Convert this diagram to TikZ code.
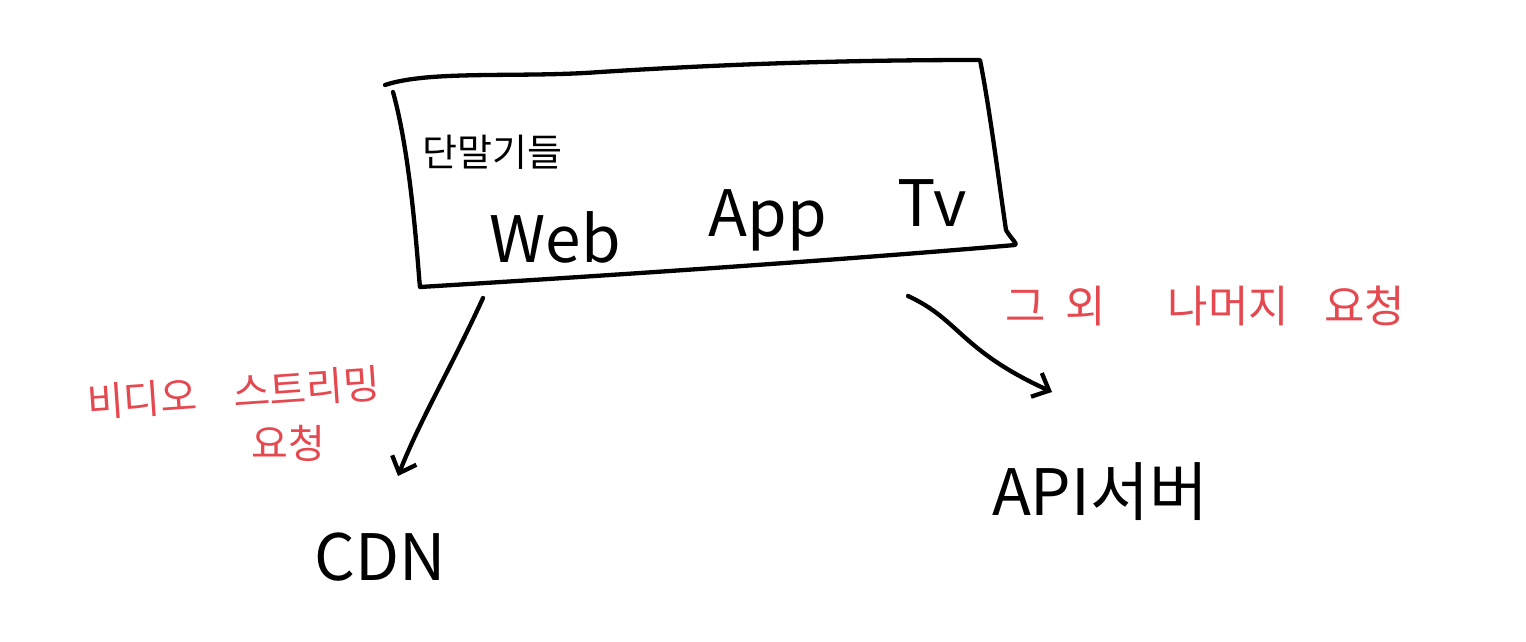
\documentclass[tikz,border=0pt]{standalone}
\usepackage{fontspec}
\setmainfont{Noto Sans CJK KR}
\usetikzlibrary{arrows.meta}
\definecolor{hred}{HTML}{E5484F}
\tikzset{
  ink/.style={line width=4.3pt, line cap=round, line join=round, black},
  lbl/.style={inner sep=0pt, font=\fontsize{64}{70}\selectfont},
  kor/.style={inner sep=0pt, font=\fontsize{38}{46}\selectfont},
  redlbl/.style={inner sep=0pt, text=hred, font=\fontsize{40}{46}\selectfont},
  arr/.style={ink, -{Straight Barb[length=14pt, width=26pt, line width=4.3pt]}}
}
\begin{document}
\begin{tikzpicture}[x=1pt,y=-1pt]
\useasboundingbox[fill=white] (0,0) rectangle (1526,642);
% hand-drawn box
\draw[ink] (385,85) .. controls (430,70) and (520,78) .. (600,72)
  .. controls (760,62) and (880,60) .. (980,60)
  .. controls (990,110) and (1000,190) .. (1006,230)
  .. controls (1012,240) and (1018,244) .. (1015,245)
  .. controls (900,255) and (700,270) .. (420,287)
  .. controls (418,270) and (412,160) .. (393,92);
\node[kor, anchor=west] (dev) at (422,152) {단말기들};
\node[lbl, anchor=base] (web) at (555,262) {Web};
\node[lbl, anchor=base] (app) at (768,236) {App};
\node[lbl, anchor=base] (tv) at (932,226) {Tv};
% targets
\node[lbl, anchor=base] (cdn) at (380,580) {CDN};
\node[lbl, anchor=base] (api) at (1100,515) {API서버};
% red labels
\node[redlbl, anchor=base west, rotate=4] (vid) at (88,418) {비디오\hspace{0.9em}스트리밍};
\node[redlbl, anchor=base] (req1) at (288,458) {요청};
\node[redlbl, anchor=base west, font=\fontsize{44}{50}\selectfont] (other) at (1005,322) {그\hspace{0.45em}외\hspace{1.4em}나머지\hspace{0.8em}요청};
% arrows
\coordinate (s1) at (483,298);
\coordinate (e1) at (398,476);
\coordinate (s2) at (908,296);
\coordinate (e2) at (1052,392);
\draw[arr] (s1) .. controls (450,370) and (420,420) .. (e1);
\draw[arr] (s2) .. controls (960,320) and (960,350) .. (e2);
\end{tikzpicture}
\end{document}
